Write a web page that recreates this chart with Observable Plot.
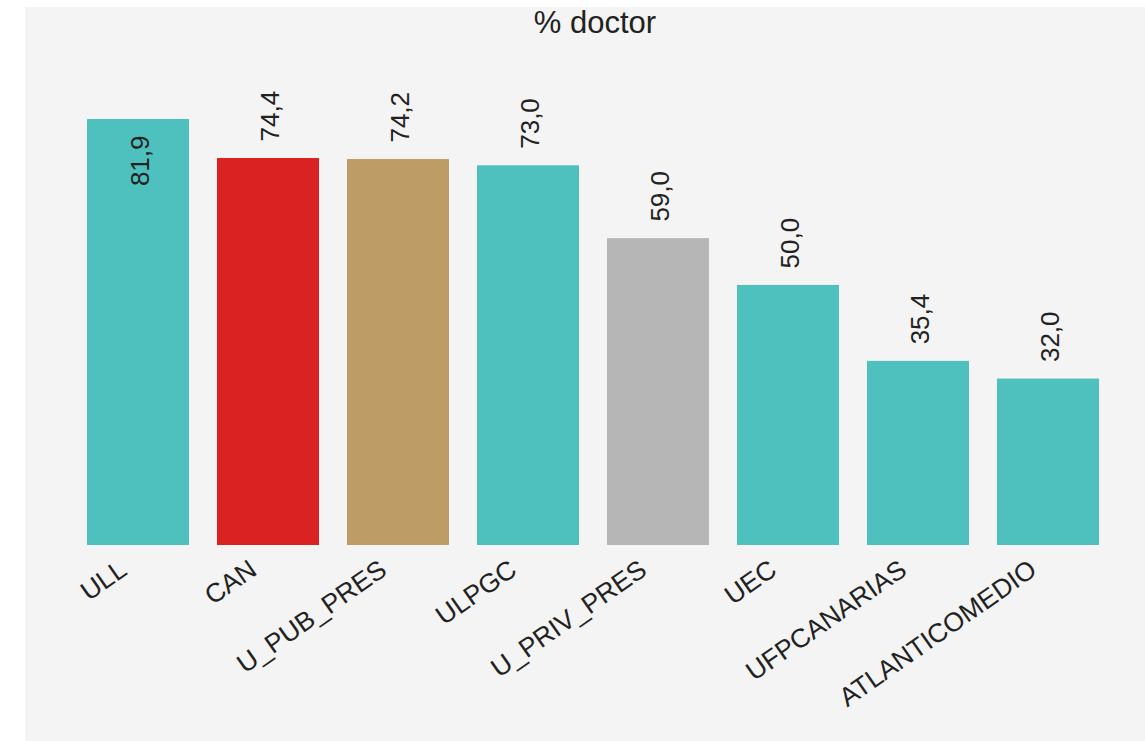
<!DOCTYPE html>
<html><head><meta charset="utf-8">
<script src="https://cdn.jsdelivr.net/npm/d3@7"></script>
<script src="https://cdn.jsdelivr.net/npm/@observablehq/plot@0.6"></script>
<style>
body{margin:0;background:#fff;font-family:"Liberation Sans",Arial,sans-serif;}
#wrap{position:absolute;left:25px;top:7px;width:1120px;height:734px;background:#f4f4f4;}
#title{height:38px;line-height:32px;font-size:31px;text-align:center;padding-left:20px;color:#222;box-sizing:border-box;}
#chart svg{display:block;}
</style></head><body>
<div id="wrap"><div id="title">% doctor</div><div id="chart"></div></div>
<script>
const categories = ["ULL","CAN","U_PUB_PRES","ULPGC","U_PRIV_PRES","UEC","UFPCANARIAS","ATLANTICOMEDIO"];
const values = [81.9, 74.4, 74.2, 73.0, 59.0, 50.0, 35.4, 32.0];
const barColors = ["#4ec1be","#da2223","#bd9d65","#4ec1be","#b6b6b6","#4ec1be","#4ec1be","#4ec1be"];

const data = categories.map((c, i) => ({name: c, value: values[i]}));
const maxV = d3.max(values);
const fmt = v => v.toFixed(1).replace(".", ",");
const ink = "#222";

const plot = Plot.plot({
  width: 1120, height: 696,
  marginTop: 74, marginBottom: 196, marginLeft: 34, marginRight: 18,
  style: {background: "transparent", fontFamily: "Liberation Sans, Arial, sans-serif", color: ink},
  x: {domain: categories, padding: 0.215, axis: null},
  y: {domain: [0, maxV], axis: null},
  color: {domain: categories, range: barColors},
  marks: [
    Plot.barY(data, {x: "name", y: "value", fill: "name"}),
    Plot.text(data.filter(d => d.value < maxV), {
      x: "name", y: "value", text: d => fmt(d.value), rotate: -90,
      textAnchor: "start", dy: -17, dx: 2, fontSize: 26, fill: ink
    }),
    Plot.text(data.filter(d => d.value >= maxV), {
      x: "name", y: "value", text: d => fmt(d.value), rotate: -90,
      textAnchor: "end", dy: 16, dx: 2, fontSize: 26, fill: ink
    }),
    Plot.text(categories, {
      x: d => d, frameAnchor: "bottom", text: d => d, rotate: -35,
      textAnchor: "end", lineAnchor: "bottom", dx: -10, dy: 28, fontSize: 26.5, fill: ink
    })
  ]
});
document.getElementById("chart").appendChild(plot);
</script>
</body></html>
